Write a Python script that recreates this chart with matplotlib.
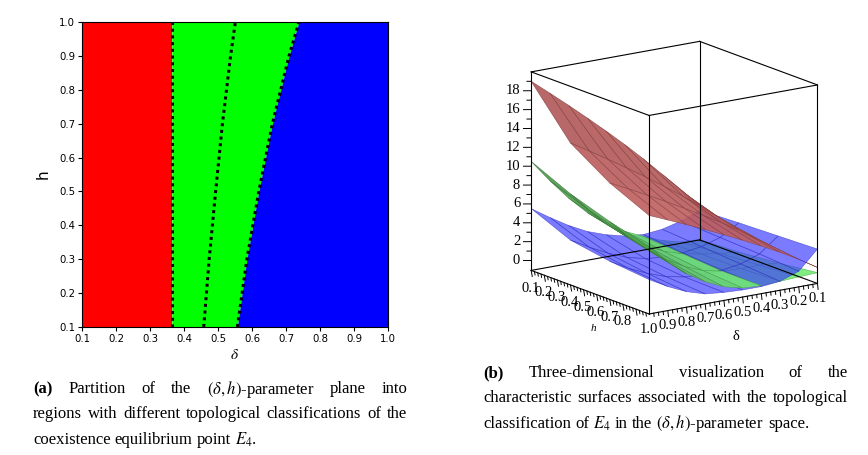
import numpy as np
import matplotlib
matplotlib.use('Agg')
import matplotlib.pyplot as plt
from mpl_toolkits.mplot3d import proj3d
from mpl_toolkits.mplot3d.art3d import Poly3DCollection

plt.rcParams['mathtext.fontset'] = 'stix'

# ---- panel (a): region boundaries ----
h_levels = [0.1, 0.3, 0.5, 0.7, 0.9, 1.0]
delta_left = [0.364, 0.364, 0.364, 0.364, 0.364, 0.364]
delta_mid = [0.458, 0.474, 0.493, 0.513, 0.537, 0.551]
delta_right = [0.557, 0.585, 0.620, 0.660, 0.709, 0.738]

# ---- panel (b): characteristic surfaces, z values on a coarse (h, delta) grid ----
delta_grid = [0.1, 0.2, 0.3, 0.4, 0.5, 0.6, 0.7, 0.8, 0.9, 1.0]
h_grid = [0.1, 0.4, 0.7, 1.0]
z_red = [
    [2.17, 4.52, 6.63, 8.61, 10.49, 12.29, 14.03, 15.73, 17.38, 19.0],
    [1.38, 3.14, 4.73, 6.21, 7.61, 8.97, 10.28, 11.55, 12.79, 14.0],
    [0.95, 2.39, 3.69, 4.91, 6.06, 7.17, 8.25, 9.29, 10.31, 11.3],
    [0.65, 1.87, 2.97, 4.00, 4.97, 5.91, 6.82, 7.70, 8.56, 9.4],
]
z_green = [
    [-1.0, -0.9, -0.4, 0.4, 1.3, 2.5, 4.0, 5.9, 8.1, 10.5],
    [-0.8, -0.6, -0.3, 0.1, 0.7, 1.7, 3.0, 4.6, 6.5, 8.6],
    [-0.4, -0.3, -0.3, -0.2, 0.2, 1.0, 2.1, 3.5, 5.2, 7.2],
    [0.1, 0.0, -0.1, -0.2, -0.1, 0.4, 1.3, 2.5, 4.1, 6.1],
]
z_blue = [
    [2.1, 1.3, 0.8, 0.6, 0.8, 1.3, 2.0, 3.0, 4.2, 5.5],
    [2.3, 1.1, 0.5, 0.2, 0.1, 0.3, 0.8, 1.6, 2.6, 3.7],
    [2.45, 0.9, 0.2, -0.1, -0.2, -0.1, 0.3, 1.0, 1.9, 3.0],
    [2.6, 0.6, -0.1, -0.3, -0.3, -0.2, 0.0, 0.6, 1.5, 2.6],
]
z_ticks = [0, 2, 4, 6, 8, 10, 12, 14, 16, 18]
h_ticks = [0.1, 0.2, 0.3, 0.4, 0.5, 0.6, 0.7, 0.8]
d_ticks = [1.0, 0.9, 0.8, 0.7, 0.6, 0.5, 0.4, 0.3, 0.2, 0.1]

W, H = 868, 455
fig = plt.figure(figsize=(W / 100, H / 100), dpi=100)

# ---------------- (a) ----------------
ax = fig.add_axes([82 / W, 1 - 327 / H, 306 / W, 305 / H])
ax.fill_betweenx(h_levels, 0.1, delta_left, color='#ff0000', lw=0)
ax.fill_betweenx(h_levels, delta_left, delta_right, color='#00ff00', lw=0)
ax.fill_betweenx(h_levels, delta_right, 1.0, color='#0000ff', lw=0)
for xs in (delta_left, delta_mid, delta_right):
    ax.plot(xs, h_levels, color='black', lw=2.2, dashes=(1, 1.2))
ax.set_xlim(0.1, 1.0)
ax.set_ylim(0.1, 1.0)
ticks = np.round(np.arange(0.1, 1.01, 0.1), 1)
ax.set_xticks(ticks)
ax.set_yticks(ticks)
ax.tick_params(labelsize=7.3, length=3, width=0.8, pad=2)
ax.set_xlabel(r'$\delta$', fontsize=11, labelpad=2)
ax.set_ylabel('h', fontsize=11, labelpad=6)

# ---------------- (b) ----------------
ax3 = fig.add_axes([485 / W, 1 - 342 / H, 370 / W, 320 / H], projection='3d')
ax3.set_proj_type('ortho')
ax3.view_init(elev=15, azim=55)
ax3.computed_zorder = False
x0, x1 = 0.1, 1.0
y0, y1 = 0.1, 1.0
z0, z1 = -1.05, 20.0
ax3.set_xlim(x0, x1)
ax3.set_ylim(y0, y1)
ax3.set_zlim(z0, z1)
ax3.set_box_aspect((1, 1, 1), zoom=1.08)
ax3.set_axis_off()


def surface_facets(Z, rgb, alpha, shade):
    # quads of one surface, lit from above by the slope in box units
    Z = np.asarray(Z)
    base = np.array(rgb) / 255
    polys, faces, edges = [], [], []
    for i in range(len(h_grid) - 1):
        for j in range(len(delta_grid) - 1):
            da, db = delta_grid[j], delta_grid[j + 1]
            ha, hb = h_grid[i], h_grid[i + 1]
            polys.append([(da, ha, Z[i, j]), (db, ha, Z[i, j + 1]),
                          (db, hb, Z[i + 1, j + 1]), (da, hb, Z[i + 1, j])])
            gd = ((Z[i, j + 1] - Z[i, j]) + (Z[i + 1, j + 1] - Z[i + 1, j])) / 2
            gh = ((Z[i + 1, j] - Z[i, j]) + (Z[i + 1, j + 1] - Z[i, j + 1])) / 2
            gd = gd / (z1 - z0) * (x1 - x0) / (db - da)
            gh = gh / (z1 - z0) * (y1 - y0) / (hb - ha)
            nz2 = 1 / (1 + gd ** 2 + gh ** 2)
            f = 1 - shade * (1 - nz2)
            c = np.clip(base * f, 0, 1)
            faces.append((*c, alpha))
            edges.append((*(c * 0.72), alpha))
    return polys, faces, edges


polys, faces, edges = [], [], []
for Z, rgb, a, s in ((z_red, (200, 98, 98), 0.9, 0.25),
                     (z_green, (110, 235, 110), 0.88, 0.7),
                     (z_blue, (60, 60, 255), 0.68, 0.0)):
    p, fc, ec = surface_facets(Z, rgb, a, s)
    polys += p
    faces += fc
    edges += ec
ax3.add_collection3d(Poly3DCollection(polys, facecolors=faces, edgecolors=edges,
                                      linewidths=0.4, zorder=1))

# box frame
frame_kw = dict(color='black', lw=0.8, zorder=3)
for x in (x0, x1):
    for y in (y0, y1):
        ax3.plot([x, x], [y, y], [z0, z1], **frame_kw)
for z in (z0, z1):
    ax3.plot([x0, x1], [y0, y0], [z, z], **frame_kw)
    ax3.plot([x0, x1], [y1, y1], [z, z], **frame_kw)
    ax3.plot([x0, x0], [y0, y1], [z, z], **frame_kw)
    ax3.plot([x1, x1], [y0, y1], [z, z], **frame_kw)

M = ax3.get_proj()


def label3d(x, y, z, s, **kw):
    px, py, _ = proj3d.proj_transform(x, y, z, M)
    ax3.text2D(px, py, s, transform=ax3.transData, **kw)


tick_kw = dict(color='black', lw=0.7, zorder=3)
txt_kw = dict(family='Liberation Serif', fontsize=10.5)
# z axis on the (delta=1, h=0.1) edge
for z in range(0, 20):
    f = 1.0 if z % 2 == 0 else 0.55
    ax3.plot([x1, x1 + 0.028 * f], [y0, y0 - 0.019 * f], [z, z], **tick_kw)
for z in z_ticks:
    label3d(x1 + 0.04, y0 - 0.027, z, str(z), ha='right', va='center', **txt_kw)
# h axis on the (delta=1, z=min) edge
for i in range(0, 36):
    h = 0.1 + i * 0.025
    f = 1.0 if i % 4 == 0 else 0.55
    ax3.plot([x1, x1], [h, h + 0.008 * f], [z0, z0 - 0.6 * f], **tick_kw)
for h in h_ticks:
    label3d(x1, h - 0.005, z0 - 1.9, f'{h:.1f}', ha='center', va='center', **txt_kw)
# delta axis on the (h=1, z=min) edge
for i in range(0, 36):
    d = 0.1 + i * 0.025
    f = 1.0 if i % 4 == 0 else 0.55
    ax3.plot([d, d], [y1, y1 + 0.005 * f], [z0, z0 - 0.6 * f], **tick_kw)
for d in d_ticks:
    label3d(d, y1, z0 - 1.6, f'{d:.1f}', ha='center', va='center', **txt_kw)
label3d(x1 + 0.04, 0.63, z0 - 3.3, 'h', ha='center', va='center',
        family='Liberation Serif', style='italic', fontsize=8)
label3d(0.55, y1 + 0.02, z0 - 3.9, 'δ', ha='center', va='center',
        family='Liberation Serif', fontsize=10.5)

# ---------------- captions ----------------
renderer = fig.canvas.get_renderer()
cap_size = 12


def caption_line(pieces, xa, xb, yc, justify=True):
    objs = []
    for s, bold in pieces:
        t = fig.text(xa / W, 1 - yc / H, s, fontsize=cap_size, family='Liberation Serif',
                     fontweight='bold' if bold else 'normal', va='center', ha='left')
        objs.append(t)
    widths = [t.get_window_extent(renderer).width for t in objs]
    if justify and len(objs) > 1:
        gap = (xb - xa - sum(widths)) / (len(objs) - 1)
    else:
        gap = cap_size * 0.25 * 100 / 72
    x = xa
    for t, w in zip(objs, widths):
        t.set_x(x / W)
        x += w + gap


def words(line, bold_first=False):
    parts = line.split(' ')
    return [(p, bold_first and i == 0) for i, p in enumerate(parts)]


caption_line(words(r'(a) Partition of the $(\delta,h)$-parameter plane into', True), 33, 407, 389)
caption_line(words('regions with different topological classifications of the'), 33, 407, 414)
caption_line(words(r'coexistence equilibrium point $E_4$.'), 33, 407, 440, justify=False)

caption_line(words('(b) Three-dimensional visualization of the', True), 483, 848, 373)
caption_line(words('characteristic surfaces associated with the topological'), 483, 848, 398)
caption_line(words(r'classification of $E_4$ in the $(\delta,h)$-parameter space.'), 483, 848, 424,
             justify=False)

fig.savefig('out.png', dpi=100)
